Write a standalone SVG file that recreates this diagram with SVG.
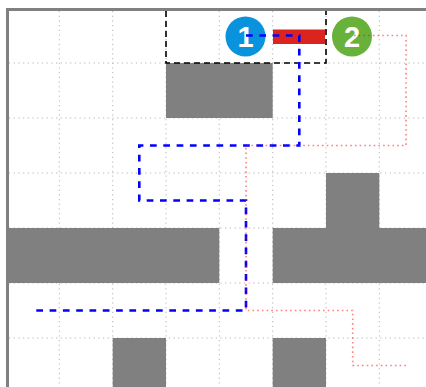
<svg xmlns="http://www.w3.org/2000/svg" width="426" height="387" viewBox="0 0 426 387">
  <style>
    .grid { stroke: #b4b4b4; stroke-width: 1; stroke-dasharray: 1.2,3.5; fill: none; }
    .block { fill: #808080; }
    .num { font-family: "Liberation Sans", Arial, sans-serif; font-weight: bold; font-size: 29px; fill: #ffffff; text-anchor: middle; }
    .blue { fill: none; stroke: #0000ff; stroke-width: 2.6; stroke-dasharray: 6.7,6.6; }
    .red { fill: none; stroke: #ff0000; stroke-opacity: 0.5; stroke-width: 1.6; stroke-dasharray: 1.6,3.1; }
  </style>
  <rect x="0" y="0" width="426" height="387" fill="#ffffff"/>
  <g id="grid">
    <path class="grid" d="M59.3 11V387M112.7 11V387M166 11V387M219.3 11V387M272.7 11V387M326 11V387M379.3 11V387"/>
    <path class="grid" d="M9 63H426M9 118H426M9 173H426M9 228H426M9 283H426M9 338H426"/>
  </g>
  <g id="obstacles">
    <rect class="block" x="166" y="63" width="106.7" height="55"/>
    <rect class="block" x="6" y="228" width="213.3" height="55"/>
    <rect class="block" x="272.7" y="228" width="153.3" height="55"/>
    <rect class="block" x="326" y="173" width="53.3" height="55"/>
    <rect class="block" x="112.7" y="338" width="53.3" height="49"/>
    <rect class="block" x="272.7" y="338" width="53.3" height="49"/>
  </g>
  <g id="target-box">
    <rect x="166" y="9" width="160" height="54" fill="none" stroke="#000000" stroke-width="1.6" stroke-dasharray="6,4"/>
  </g>
  <g id="border">
    <path d="M7.5 387V9.5H426" fill="none" stroke="#808080" stroke-width="3"/>
  </g>
  <g id="bar">
    <rect x="273" y="29.5" width="52" height="14.5" fill="#dc241f"/>
  </g>
  <g id="node1">
    <circle cx="245.5" cy="36.5" r="20" fill="#0a93dd"/>
    <text class="num" x="245.5" y="47">1</text>
  </g>
  <g id="node2">
    <circle cx="352" cy="36.5" r="20" fill="#68b23c"/>
    <text class="num" x="352" y="47">2</text>
  </g>
  <g id="connectors">
    <path class="blue" d="M246 35.5H299.3V145.5H139.3V200.5H246V310.5H32.7"/>
    <path class="red" d="M354 35.5H406V145.5H246V310.5H352.7V365.5H406"/>
  </g>
</svg>
